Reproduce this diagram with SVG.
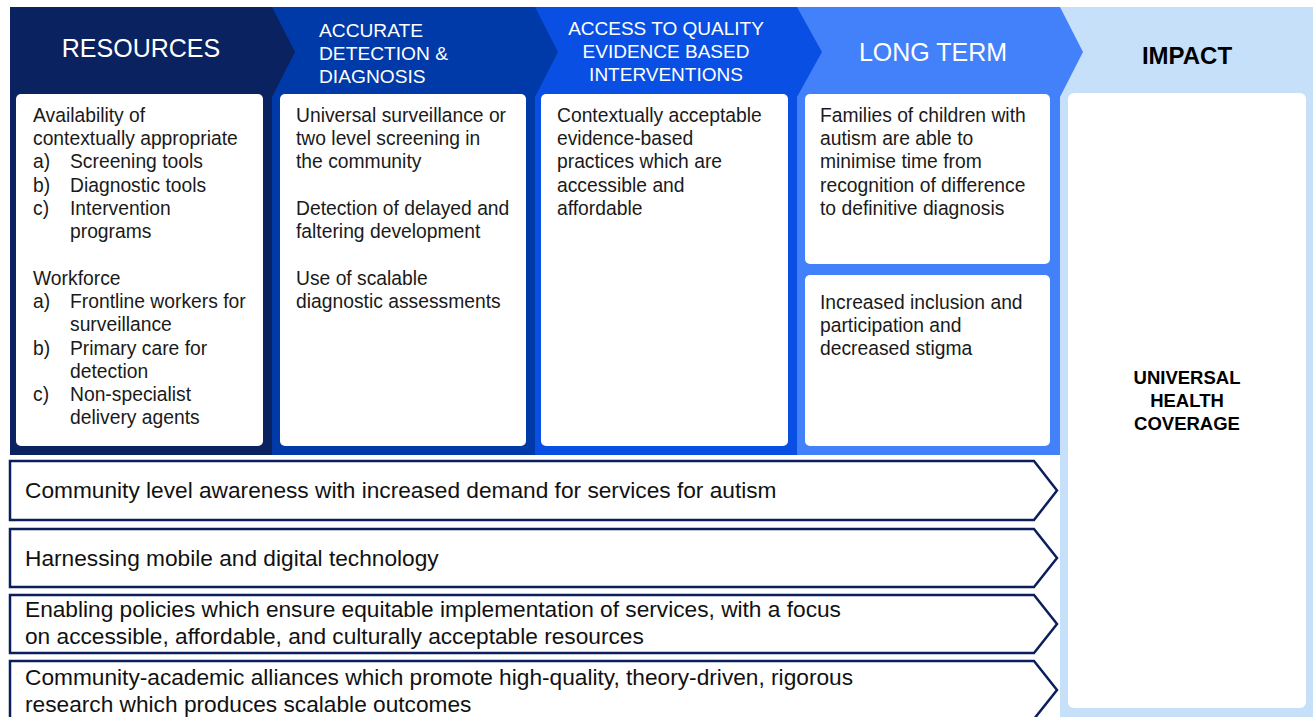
<svg xmlns="http://www.w3.org/2000/svg" width="1313" height="717" viewBox="0 0 1313 717">
<style>
.hd{font-family:"Liberation Sans",Arial,sans-serif;fill:#ffffff}
.hb{font-family:"Liberation Sans",Arial,sans-serif;fill:#000000;font-weight:bold}
.tx{font-family:"Liberation Sans",Arial,sans-serif;font-size:19.3px;fill:#1a1a1a}
.ar{font-family:"Liberation Sans",Arial,sans-serif;font-size:22.7px;fill:#111111}
.box{fill:#ffffff}
.arrow{fill:#ffffff;stroke:#0b1f5c;stroke-width:2.5;stroke-linejoin:miter}
</style>
<rect x="0" y="0" width="1313" height="717" fill="#ffffff"/>
<g id="impact">
<rect x="1060" y="7" width="253" height="710" fill="#c6e0fa"/>
<rect class="box" x="1068" y="93" width="238" height="615" rx="6"/>
<text class="hb" x="1187" y="64" font-size="24" text-anchor="middle">IMPACT</text>
<text class="hb" font-size="18.5" text-anchor="middle"><tspan x="1187" y="384">UNIVERSAL</tspan><tspan x="1187" y="407">HEALTH</tspan><tspan x="1187" y="430">COVERAGE</tspan></text>
</g>
<g id="longterm">
<polygon points="797,7 1060,7 1083,52 1060,97 1060,455 797,455" fill="#4381fb"/>
<text class="hd" x="933" y="61" font-size="25" text-anchor="middle">LONG TERM</text>
<rect class="box" x="805" y="94" width="245" height="170" rx="5"/>
<rect class="box" x="805" y="275" width="245" height="171" rx="5"/>
<text class="tx"><tspan x="820" y="122">Families of children with</tspan><tspan x="820" y="145">autism are able to</tspan><tspan x="820" y="168">minimise time from</tspan><tspan x="820" y="192">recognition of difference</tspan><tspan x="820" y="215">to definitive diagnosis</tspan></text>
<text class="tx"><tspan x="820" y="309">Increased inclusion and</tspan><tspan x="820" y="332">participation and</tspan><tspan x="820" y="355">decreased stigma</tspan></text>
</g>
<g id="access">
<polygon points="535,7 797,7 822,52 797,97 797,455 535,455" fill="#0a4fe4"/>
<text class="hd" font-size="19" text-anchor="middle"><tspan x="666" y="35">ACCESS TO QUALITY</tspan><tspan x="666" y="58">EVIDENCE BASED</tspan><tspan x="666" y="81">INTERVENTIONS</tspan></text>
<rect class="box" x="541" y="94" width="247" height="352" rx="5"/>
<text class="tx"><tspan x="557" y="122">Contextually acceptable</tspan><tspan x="557" y="145">evidence-based</tspan><tspan x="557" y="168">practices which are</tspan><tspan x="557" y="192">accessible and</tspan><tspan x="557" y="215">affordable</tspan></text>
</g>
<g id="detection">
<polygon points="272,7 535,7 558,52 535,97 535,455 272,455" fill="#0039a8"/>
<text class="hd" font-size="19.2"><tspan x="319" y="37">ACCURATE</tspan><tspan x="319" y="60">DETECTION &amp;</tspan><tspan x="319" y="83">DIAGNOSIS</tspan></text>
<rect class="box" x="280" y="94" width="246" height="352" rx="5"/>
<text class="tx"><tspan x="296" y="122">Universal surveillance or</tspan><tspan x="296" y="145">two level screening in</tspan><tspan x="296" y="168">the community</tspan><tspan x="296" y="215">Detection of delayed and</tspan><tspan x="296" y="238">faltering development</tspan><tspan x="296" y="285">Use of scalable</tspan><tspan x="296" y="308">diagnostic assessments</tspan></text>
</g>
<g id="resources">
<polygon points="10,7 272,7 295,52 272,97 272,455 10,455" fill="#0a2260"/>
<text class="hd" x="141" y="57" font-size="25" text-anchor="middle">RESOURCES</text>
<rect class="box" x="16" y="94" width="247" height="352" rx="5"/>
<text class="tx"><tspan x="33" y="122">Availability of</tspan><tspan x="33" y="145">contextually appropriate</tspan><tspan x="33" y="168">a)</tspan><tspan x="70" y="168">Screening tools</tspan><tspan x="33" y="192">b)</tspan><tspan x="70" y="192">Diagnostic tools</tspan><tspan x="33" y="215">c)</tspan><tspan x="70" y="215">Intervention</tspan><tspan x="70" y="238">programs</tspan><tspan x="33" y="285">Workforce</tspan><tspan x="33" y="308">a)</tspan><tspan x="70" y="308">Frontline workers for</tspan><tspan x="70" y="331">surveillance</tspan><tspan x="33" y="355">b)</tspan><tspan x="70" y="355">Primary care for</tspan><tspan x="70" y="378">detection</tspan><tspan x="33" y="401">c)</tspan><tspan x="70" y="401">Non-specialist</tspan><tspan x="70" y="424">delivery agents</tspan></text>
</g>
<g id="arrow1">
<polygon class="arrow" points="10,461 1034,461 1057,490.5 1034,520 10,520"/>
<text class="ar" x="25" y="498">Community level awareness with increased demand for services for autism</text>
</g>
<g id="arrow2">
<polygon class="arrow" points="10,529 1034,529 1057,558 1034,587 10,587"/>
<text class="ar" x="25" y="566">Harnessing mobile and digital technology</text>
</g>
<g id="arrow3">
<polygon class="arrow" points="10,595 1034,595 1057,624 1034,653 10,653"/>
<text class="ar"><tspan x="25" y="617">Enabling policies which ensure equitable implementation of services, with a focus</tspan><tspan x="25" y="644">on accessible, affordable, and culturally acceptable resources</tspan></text>
</g>
<g id="arrow4">
<polygon class="arrow" points="10,661 1034,661 1057,690 1034,719 10,719"/>
<text class="ar"><tspan x="25" y="685">Community-academic alliances which promote high-quality, theory-driven, rigorous</tspan><tspan x="25" y="712">research which produces scalable outcomes</tspan></text>
</g>
<g id="connectors"></g>
</svg>
